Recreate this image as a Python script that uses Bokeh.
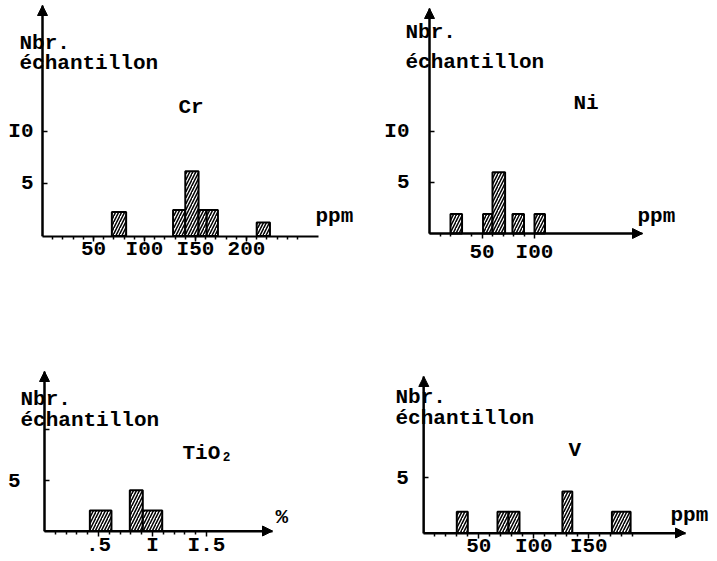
from bokeh.plotting import figure
from bokeh.layouts import column, row
from bokeh.models import Label, Arrow, NormalHead, FixedTicker, Range1d
from bokeh.embed import file_html
from bokeh.resources import INLINE

# ---------------- data ----------------
cr_lo = [68, 128, 140, 153, 161, 210]
cr_hi = [82, 140, 153, 161, 172, 223]
cr_n = [2.3, 2.5, 6.2, 2.5, 2.5, 1.3]

ni_lo = [20, 51, 60, 79, 100]
ni_hi = [31, 60, 72, 90, 110]
ni_n = [1.9, 1.9, 6.0, 1.9, 1.9]

ti_lo = [0.42, 0.79, 0.91]
ti_hi = [0.62, 0.91, 1.09]
ti_n = [2.0, 4.0, 2.0]

v_lo = [30, 67, 77, 126, 171]
v_hi = [40, 77, 87, 135, 188]
v_n = [1.9, 1.9, 1.9, 3.7, 1.9]

cr_xticks = [50, 100, 150, 200]
cr_xlabels = ["50", "I00", "I50", "200"]
ni_xticks = [50, 100]
ni_xlabels = ["50", "I00"]
ti_xticks = [0.5, 1.0, 1.5]
ti_xlabels = [".5", "I", "I.5"]
v_xticks = [50, 100, 150]
v_xlabels = ["50", "I00", "I50"]

cr_yticks = [5, 10]
cr_ylabels = ["5", "I0"]
ni_yticks = [5, 10]
ni_ylabels = ["5", "I0"]
ti_yticks = [5, 10]
ti_ylabels = ["5", ""]
v_yticks = [5]
v_ylabels = ["5"]

# ---------------- layout helpers ----------------
FONT = "Liberation Mono"
FS = "21px"


def panel(box, origin, kx, ky, x_end, y_tip, x_arrow,
          lo, hi, n, xticks, xlabels, minor, yticks, ylabels,
          texts, y_standoff, x_standoff):
    x0, y0, x1, y1 = box
    ox, oy = origin
    W = x1 - x0
    H = y1 - y0

    def dx(rx):
        return (rx - ox) / kx

    def dy(ry):
        return (oy - ry) / ky

    p = figure(width=W, height=H, output_backend="svg", toolbar_location=None,
               x_range=Range1d(dx(x0), dx(x1)), y_range=Range1d(dy(y1), dy(y0)),
               min_border_left=0, min_border_right=0, min_border_top=0,
               min_border_bottom=0)
    p.outline_line_color = None
    p.grid.visible = False
    p.background_fill_color = "white"
    p.border_fill_color = "white"

    p.quad(left=lo, right=hi, bottom=0, top=n, fill_color="white",
           line_color="black", line_width=2, hatch_pattern="/",
           hatch_color="black", hatch_scale=6, hatch_weight=1.5)

    xa = p.xaxis[0]
    xa.fixed_location = 0
    xa.bounds = (0, dx(x_end))
    xa.ticker = FixedTicker(ticks=xticks, minor_ticks=minor)
    xa.major_label_overrides = {t: s for t, s in zip(xticks, xlabels)}
    xa.axis_line_width = 2
    xa.major_tick_in = 0
    xa.major_tick_out = 5
    xa.minor_tick_in = 0
    xa.minor_tick_out = 3
    xa.major_tick_line_width = 1.5
    xa.minor_tick_line_width = 1.5
    xa.major_label_standoff = x_standoff
    xa.major_label_text_font = FONT
    xa.major_label_text_font_style = "bold"
    xa.major_label_text_font_size = FS
    xa.major_label_text_color = "black"

    ya = p.yaxis[0]
    ya.fixed_location = 0
    ya.bounds = (0, dy(y_tip))
    ya.ticker = FixedTicker(ticks=yticks)
    ya.major_label_overrides = {t: s for t, s in zip(yticks, ylabels)}
    ya.axis_line_width = 2
    ya.major_tick_in = 5
    ya.major_tick_out = 0
    ya.minor_tick_in = 0
    ya.minor_tick_out = 0
    ya.major_tick_line_width = 1.5
    ya.major_label_standoff = y_standoff
    ya.major_label_text_font = FONT
    ya.major_label_text_font_style = "bold"
    ya.major_label_text_font_size = FS
    ya.major_label_text_color = "black"

    p.add_layout(Arrow(end=NormalHead(size=10, fill_color="black", line_color="black"),
                       x_start=0, y_start=0, x_end=0, y_end=dy(y_tip),
                       line_width=2, line_color="black"))
    if x_arrow:
        p.add_layout(Arrow(end=NormalHead(size=10, fill_color="black", line_color="black"),
                           x_start=0, y_start=0, x_end=dx(x_end), y_end=0,
                           line_width=2, line_color="black"))

    for txt, rx, ry, size in texts:
        p.add_layout(Label(x=dx(rx), y=dy(ry), text=txt, text_font=FONT,
                           text_font_style="bold", text_font_size=size,
                           text_color="black", text_align="left",
                           text_baseline="alphabetic"))
    return p


f_cr = panel((0, 0, 360, 290), (42, 235.5), 1.02, 10.45, 318, 5, False,
             cr_lo, cr_hi, cr_n, cr_xticks, cr_xlabels, list(range(10, 260, 10)),
             cr_yticks, cr_ylabels,
             [("Nbr.", 19, 43, FS), ("échantillon", 19, 63, FS),
              ("Cr", 178, 107, FS), ("ppm", 315, 216, FS)],
             9, -3)

f_ni = panel((360, 0, 716, 290), (429, 233), 1.05, 10.2, 642, 8, True,
             ni_lo, ni_hi, ni_n, ni_xticks, ni_xlabels, [10, 20, 40, 60, 70, 80, 90],
             ni_yticks, ni_ylabels,
             [("Nbr.", 405, 32, FS), ("échantillon", 405, 62, FS),
              ("Ni", 573, 103, FS), ("ppm", 637, 216, FS)],
             20, 2)

f_ti = panel((0, 290, 360, 560), (44, 530.5), 108, 10.2, 272, 371, True,
             ti_lo, ti_hi, ti_n, ti_xticks, ti_xlabels,
             [0.1, 0.2, 0.3, 0.4, 0.6, 0.7, 0.8, 0.9, 1.1, 1.2, 1.3, 1.4],
             ti_yticks, ti_ylabels,
             [("Nbr.", 20, 399, FS), ("échantillon", 20, 420, FS),
              ("TiO₂", 182, 453, FS), ("%", 275, 517, FS)],
             24, -2)

f_v = panel((360, 290, 716, 560), (423.3, 532.5), 1.1, 11.2, 685, 376, True,
            v_lo, v_hi, v_n, v_xticks, v_xlabels,
            [10, 20, 30, 40, 60, 70, 80, 90, 110, 120, 130, 140, 160, 170, 180, 190],
            v_yticks, v_ylabels,
            [("Nbr.", 395, 397, FS), ("échantillon", 395, 418, FS),
             ("V", 568, 450, FS), ("ppm", 670, 515, FS)],
            15, -3)

layout = column(row(f_cr, f_ni), row(f_ti, f_v))

open("out.html", "w").write(file_html(layout, INLINE))
